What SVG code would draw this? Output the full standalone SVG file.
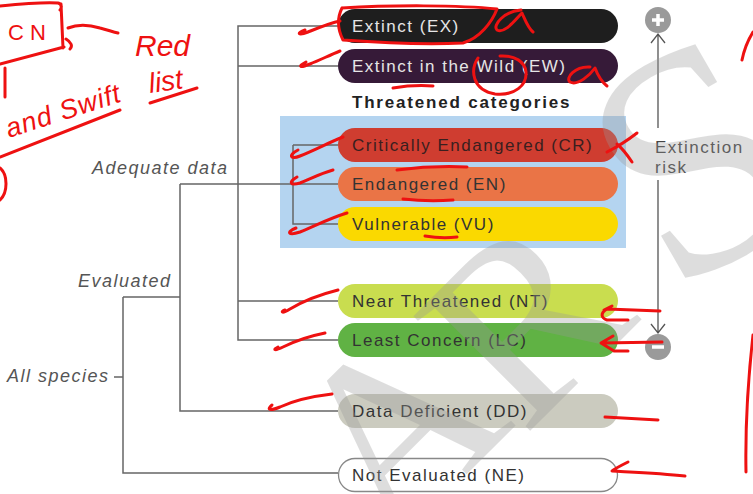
<svg xmlns="http://www.w3.org/2000/svg" width="753" height="494" viewBox="0 0 753 494">
<style>
.lbl{font-family:"Liberation Sans",Arial,sans-serif;font-size:17px;letter-spacing:1.5px}
.dark{fill:#333}
.light{fill:#e6e6e6}
.it{font-family:"Liberation Sans",Arial,sans-serif;font-size:18px;font-style:italic;letter-spacing:1.5px;fill:#555}
.ln{stroke:#666;stroke-width:1.5;fill:none}
.red{stroke:#ee1111;stroke-width:3;fill:none;stroke-linecap:round;stroke-linejoin:round}
.hand{font-family:"Liberation Sans",Arial,sans-serif;fill:#ee1111}
.wm{font-family:"Liberation Serif",serif;fill:#999;opacity:0.32}
</style>
<rect width="753" height="494" fill="#fff"/>
<rect id="threatened-box" x="280" y="116" width="346" height="132" fill="#b4d4f0"/>
<g id="connectors">
<path class="ln" d="M338,26 H238 V340 H338 M238,66 H338 M238,301 H338"/>
<path class="ln" d="M180,184 H338 M293,145 H338 M293,145 V224 H338"/>
<path class="ln" d="M180,184 V411 H338 M123,297 H180"/>
<path class="ln" d="M123,297 V473 H338 M114,377 H123"/>
<path d="M658,35 V128 M658,180 V333 M651,43 L658,34 L665,43 M651,324 L658,333 L665,324" stroke="#555" stroke-width="1.3" fill="none"/>
</g>
<g id="EX"><rect x="338" y="9" width="280" height="34" rx="17" fill="#1e1e1e"/><text class="lbl light" x="352" y="32">Extinct (EX)</text></g>
<g id="EW"><rect x="338" y="49" width="280" height="34" rx="17" fill="#361a38"/><text class="lbl light" x="352" y="72">Extinct in the Wild (EW)</text></g>
<text x="352" y="108" font-family="Liberation Sans,Arial,sans-serif" font-size="17" font-weight="bold" letter-spacing="1.8" fill="#222">Threatened categories</text>
<g id="CR"><rect x="338" y="128" width="280" height="34" rx="17" fill="#cf3d30"/><text class="lbl" fill="#3a1f1f" x="352" y="151">Critically Endangered (CR)</text></g>
<g id="EN"><rect x="338" y="167" width="280" height="34" rx="17" fill="#ea7446"/><text class="lbl dark" x="352" y="190">Endangered (EN)</text></g>
<g id="VU"><rect x="338" y="207" width="280" height="34" rx="17" fill="#fad900"/><text class="lbl dark" x="352" y="230">Vulnerable (VU)</text></g>
<g id="NT"><rect x="338" y="284" width="280" height="34" rx="17" fill="#c9dd4f"/><text class="lbl dark" x="352" y="307">Near Threatened (NT)</text></g>
<g id="LC"><rect x="338" y="323" width="280" height="34" rx="17" fill="#60b244"/><text class="lbl dark" x="352" y="346">Least Concern (LC)</text></g>
<g id="DD"><rect x="338" y="394" width="280" height="34" rx="17" fill="#cbcbbf"/><text class="lbl dark" x="352" y="417">Data Deficient (DD)</text></g>
<g id="NE"><rect x="338.5" y="458.5" width="279" height="33" rx="16.5" fill="#fff" stroke="#888" stroke-width="1.3"/><text class="lbl dark" x="352" y="481">Not Evaluated (NE)</text></g>
<g id="labels">
<text class="it" x="92" y="174">Adequate data</text>
<text class="it" x="78" y="287">Evaluated</text>
<text class="it" x="7" y="382">All species</text>
</g>
<g id="extinction-risk">
<circle cx="658" cy="20" r="13" fill="#9a9a9a"/>
<path d="M658,14 V26 M652,20 H664" stroke="#fff" stroke-width="3.5"/>
<circle cx="658" cy="347" r="13" fill="#9a9a9a"/>
<path d="M652,347 H664" stroke="#fff" stroke-width="3.5"/>
<text x="655" y="153" font-family="Liberation Sans,Arial,sans-serif" font-size="17" letter-spacing="1.5" fill="#444">Extinction</text>
<text x="655" y="173" font-family="Liberation Sans,Arial,sans-serif" font-size="17" letter-spacing="1.5" fill="#444">risk</text>
</g>
<g id="watermark">
<text class="wm" font-size="250" transform="translate(395,430) rotate(-45)" x="0" y="82" text-anchor="middle">A</text>
<text class="wm" font-size="250" transform="translate(525,320) rotate(-45)" x="0" y="82" text-anchor="middle">R</text>
<text class="wm" font-size="320" transform="translate(695,160) rotate(-30)" x="0" y="105" text-anchor="middle">S</text>
</g>
<g id="annotations">
<path class="red" d="M0,6 C20,4 45,2 58,3 C62,4 62,8 60,10 M61,4 L63,48 M0,64 L64,47 M66,39 C71,42 73,46 70,49 M5,68 L5,97"/>
<text class="hand" x="8" y="40" font-size="22" letter-spacing="6">CN</text>
<path class="red" d="M68,28 C78,24 90,25 100,28 C108,30 113,32 118,33"/>
<text class="hand" x="135" y="56" font-size="30" font-style="italic">Red</text>
<text class="hand" x="150" y="93" font-size="28" font-style="italic" transform="rotate(-8 150 93)">list</text>
<path class="red" d="M150,103 L197,88"/>
<text class="hand" x="9" y="138" font-size="27" font-style="italic" letter-spacing="1" transform="rotate(-18 9 138)">and Swift</text>
<path class="red" d="M0,157 L120,110 M0,168 C8,175 8,192 0,200"/>
<path class="red" d="M742,60 C744,50 748,40 753,32 M753,335 C748,380 745,420 746,472"/>
<path class="red" d="M342,8 C390,5 460,5 497,9 C492,22 480,38 463,43 C420,45 370,42 343,40 C338,30 337,18 342,8"/>
<path class="red" d="M521,10 C505,11 492,25 497,30 C505,34 515,20 522,13 C526,22 528,28 533,32"/>
<path class="red" d="M305,30 C296,33 298,36 308,32 C318,28 330,23 340,21"/>
<path class="red" d="M306,62 C297,67 300,68 310,64 C320,60 330,55 340,51"/>
<path class="red" d="M478,58 C470,70 472,90 495,94 C515,96 527,85 526,72 C525,62 515,55 500,56"/>
<path class="red" d="M590,67 C575,66 565,78 570,82 C578,86 590,75 595,68 C598,76 602,82 607,86"/>
<path class="red" d="M393,88 C405,86 420,85 433,86"/>
<path class="red" d="M298,150 C288,155 290,160 300,156 C315,150 330,142 343,137"/>
<path class="red" d="M637,133 C628,140 615,148 607,152 M617,144 C624,150 628,156 632,162"/>
<path class="red" d="M297,177 C288,182 290,186 300,183 C312,178 322,173 333,170"/>
<path class="red" d="M397,170 C420,167 445,166 467,167 M403,199 C420,201 440,201 453,200"/>
<path class="red" d="M296,228 C286,232 288,236 300,232 C315,226 330,218 347,213 M425,236 C437,238 448,238 457,237"/>
<path class="red" d="M285,310 C280,312 282,314 290,309 C305,300 322,294 338,290"/>
<path class="red" d="M660,311 L607,309 C600,313 601,318 607,320 L628,320 M612,306 L604,310"/>
<path class="red" d="M278,347 C272,350 275,351 283,347 C295,341 310,336 325,333"/>
<path class="red" d="M662,342 L602,343 M613,336 L601,343 L614,351 L628,351"/>
<path class="red" d="M272,405 C266,410 270,411 280,407 C295,400 315,396 332,394"/>
<path class="red" d="M605,417 C625,418 642,419 658,420"/>
<path class="red" d="M628,462 C620,466 614,469 612,471 C630,472 660,473 685,476"/>
</g>
</svg>
